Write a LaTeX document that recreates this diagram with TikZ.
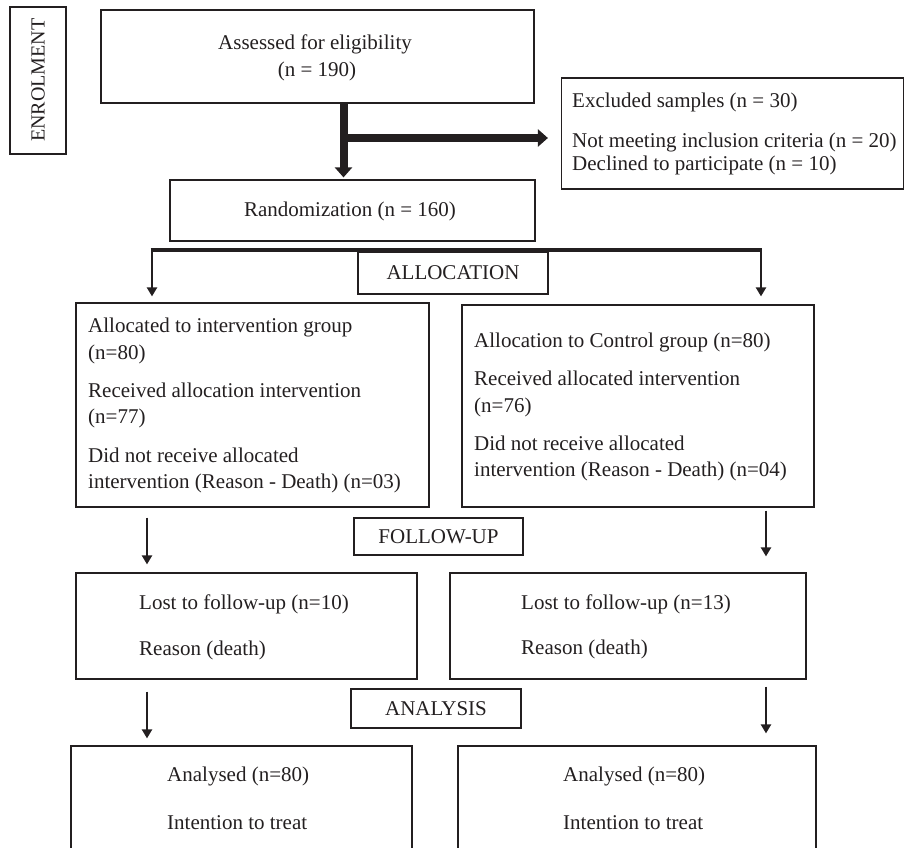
\documentclass[tikz,border=0pt]{standalone}
\usepackage{fontspec}
\setmainfont{Liberation Serif}
\usetikzlibrary{arrows.meta}
\definecolor{ink}{HTML}{231F20}
\tikzset{
  box/.style={draw=ink, line width=1.2pt, inner sep=0pt, text=ink, font=\fontsize{21}{26}\selectfont},
  txt/.style={inner sep=0pt, anchor=base west, text=ink, font=\fontsize{21}{26}\selectfont},
  ctxt/.style={txt, anchor=base},
  arr/.style={draw=ink, line width=2.8pt, -{Triangle[length=9pt,width=10pt]}},
  bigarr/.style={draw=ink, line width=8pt, -{Triangle[length=10pt,width=17pt]}},
  hline/.style={draw=ink, line width=4pt},
}
\begin{document}
\begin{tikzpicture}[x=1pt,y=-1pt]
\useasboundingbox (0,0) rectangle (905,848);
\clip (0,0) rectangle (905,848);
% boxes
\node[box, minimum width=56pt, minimum height=147pt] (enrol) at (38,80.5) {};
\node[inner sep=0pt, text=ink, font=\fontsize{20}{24}\selectfont, rotate=90] (enroltxt) at (38,80) {ENROLMENT};
\node[box, minimum width=433pt, minimum height=93pt] (assess) at (317.5,56.5) {};
\node[box, minimum width=342pt, minimum height=111pt] (excl) at (732.5,133.5) {};
\node[box, minimum width=365pt, minimum height=61pt] (rand) at (352.5,210.5) {};
\node[box, minimum width=190pt, minimum height=42pt] (alloc) at (453,273) {ALLOCATION};
\node[box, minimum width=353pt, minimum height=204pt] (intv) at (252.5,405) {};
\node[box, minimum width=352pt, minimum height=202pt] (ctrl) at (638,406) {};
\node[box, minimum width=169pt, minimum height=37pt] (follow) at (438.5,536.5) {FOLLOW-UP};
\node[box, minimum width=341pt, minimum height=106pt] (lostL) at (246.5,626) {};
\node[box, minimum width=356pt, minimum height=106pt] (lostR) at (628,626) {};
\node[box, minimum width=170pt, minimum height=39pt] (analysis) at (436,708.5) {ANALYSIS};
\node[box, minimum width=341pt, minimum height=134pt] (anaL) at (241.5,813) {};
\node[box, minimum width=358pt, minimum height=134pt] (anaR) at (637,813) {};
% texts (y = baseline)
\node[ctxt] (t1) at (315,50) {Assessed for eligibility};
\node[ctxt] (t2) at (317,77) {(n = 190)};
\node[txt] (t3) at (572,108) {Excluded samples (n = 30)};
\node[txt] (t4) at (572,147.5) {Not meeting inclusion criteria (n = 20)};
\node[txt] (t5) at (572,170.5) {Declined to participate (n = 10)};
\node[ctxt] (t6) at (350,216.5) {Randomization (n = 160)};
\node[txt] (i1) at (88,332.5) {Allocated to intervention group};
\node[txt] (i2) at (88,359.5) {(n=80)};
\node[txt] (i3) at (88,397.5) {Received allocation intervention};
\node[txt] (i4) at (88,423.5) {(n=77)};
\node[txt] (i5) at (88,462.5) {Did not receive allocated};
\node[txt] (i6) at (88,488.5) {intervention (Reason - Death) (n=03)};
\node[txt] (c1) at (474,347.5) {Allocation to Control group (n=80)};
\node[txt] (c2) at (474,385.5) {Received allocated intervention};
\node[txt] (c3) at (474,412.5) {(n=76)};
\node[txt] (c4) at (474,450.5) {Did not receive allocated};
\node[txt] (c5) at (474,476.5) {intervention (Reason - Death) (n=04)};
\node[txt] (l1) at (139,609.5) {Lost to follow-up (n=10)};
\node[txt] (l2) at (139,655.5) {Reason (death)};
\node[txt] (r1) at (521,609.5) {Lost to follow-up (n=13)};
\node[txt] (r2) at (521,654.5) {Reason (death)};
\node[txt] (a1) at (167,781.5) {Analysed (n=80)};
\node[txt] (a2) at (167,829.5) {Intention to treat};
\node[txt] (b1) at (563,781.5) {Analysed (n=80)};
\node[txt] (b2) at (563,829.5) {Intention to treat};
% connectors
\coordinate (tk) at (343.5,0);
\draw[bigarr, shorten >=2pt] (assess.south -| tk) -- (rand.north -| tk);
\coordinate (br) at (347,138);
\draw[bigarr, shorten >=13pt] (br) -- (excl.west |- br);
\coordinate (sL) at (152,250);
\coordinate (sR) at (761,250);
\draw[hline] ([xshift=-1.4pt]sL) -- ([xshift=1.4pt]sR);
\draw[arr, shorten >=6pt] (sL) -- (sL |- intv.north);
\draw[arr, shorten >=8pt] (sR) -- (sR |- ctrl.north);
\coordinate (xl) at (147,0);
\coordinate (xr) at (766,0);
\draw[arr, shorten <=10pt, shorten >=8pt] (intv.south -| xl) -- (lostL.north -| xl);
\draw[arr, shorten <=3pt, shorten >=16pt] (ctrl.south -| xr) -- (lostR.north -| xr);
\draw[arr, shorten <=12pt, shorten >=7pt] (lostL.south -| xl) -- (anaL.north -| xl);
\draw[arr, shorten <=7pt, shorten >=12pt] (lostR.south -| xr) -- (anaR.north -| xr);
\end{tikzpicture}
\end{document}
